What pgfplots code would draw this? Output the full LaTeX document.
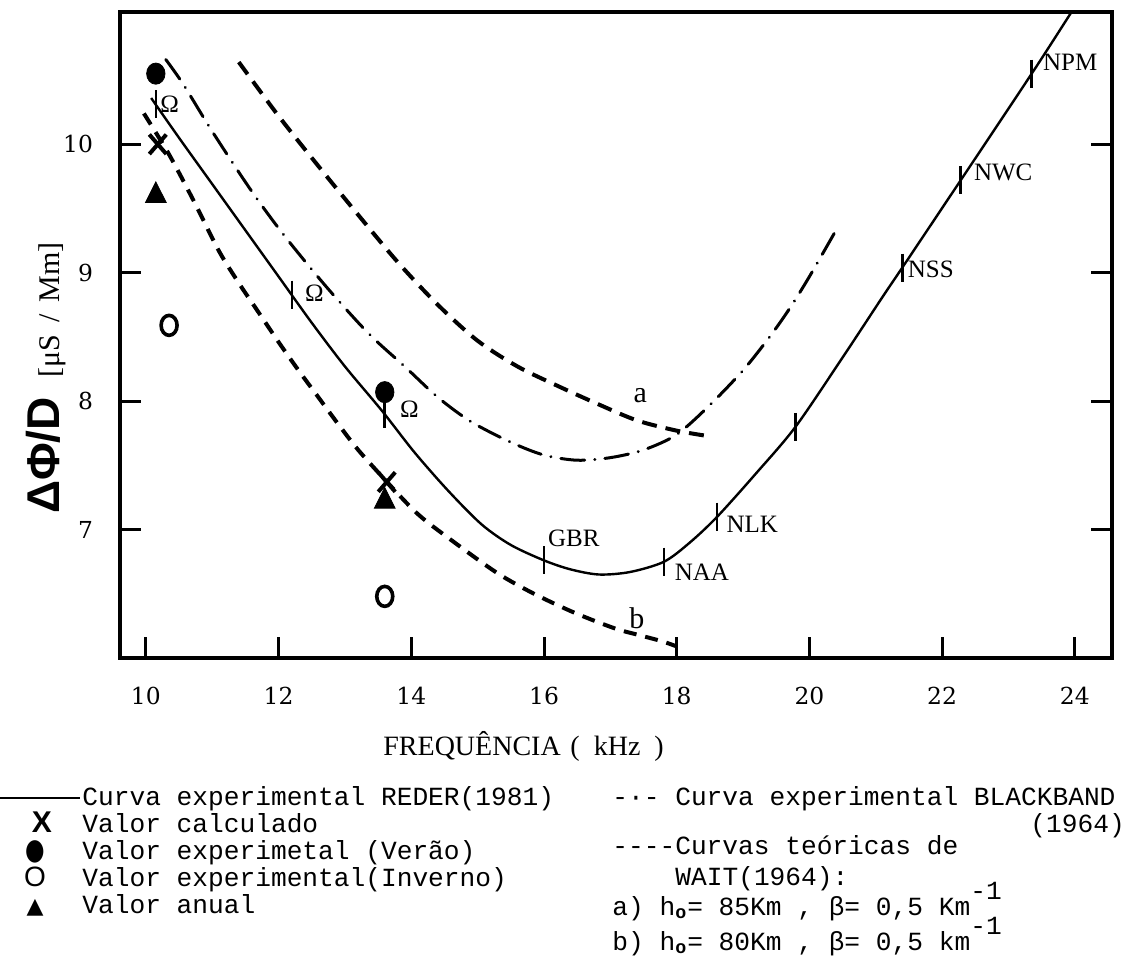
\documentclass[border=0pt]{standalone}
\usepackage{fontspec}
\setmainfont{Liberation Serif}
\setsansfont{Liberation Sans}
\setmonofont{Liberation Mono}
\newfontfamily\tickfont{DejaVu Serif}
\newfontfamily\symfont{DejaVu Sans}
\usepackage{pgfplots}
\pgfplotsset{compat=1.18}

\newcommand\lgd{\fontsize{13.1}{15}\selectfont\ttfamily}

\begin{document}
\begin{tikzpicture}
\useasboundingbox (-60pt,-159pt) rectangle (511pt,329pt);
\begin{axis}[
    at={(0pt,0pt)}, anchor=south west,
    scale only axis, width=496pt, height=323pt,
    xmin=9.61, xmax=24.56, ymin=6, ymax=11.03,
    xtick={10,12,...,24}, ytick={7,8,9,10},
    xtick pos=left, ytick pos=both, yticklabel pos=left,
    tick align=inside,
    major tick length=10.5pt,
    every tick/.style={black, line width=1.5pt},
    axis line style={line width=1.6pt},
    /pgf/number format/assume math mode=true,
    ticklabel style={font=\tickfont\fontsize{11.7}{12}\selectfont},
    xticklabel style={yshift=-11pt},
    yticklabel style={xshift=-10pt},
]
% REDER (1981), solid
\addplot[black, line width=1.2pt, smooth] table {
x y
10.08 10.36
10.5 10.05
11.0 9.69
11.5 9.33
12.0 8.97
12.5 8.61
13.0 8.27
13.55 7.93
14.05 7.60
14.56 7.30
15.06 7.04
15.5 6.88
16.0 6.76
16.4 6.69
16.83 6.65
17.3 6.67
17.81 6.75
18.2 6.90
18.61 7.10
19.2 7.44
19.79 7.80
20.5 8.34
21.1 8.81
21.4 9.04
22.28 9.72
23.35 10.55
23.95 11.03
24.0 11.07
};
% station ticks on the solid curve
\addplot[only marks, mark=|, mark size=7pt, mark options={line width=1.3pt}] table {
x y
10.15 10.31
12.2 8.83
13.6 7.90
16.0 6.76
17.81 6.75
18.61 7.10
19.79 7.80
21.4 9.04
22.28 9.72
23.35 10.55
};
% BLACKBAND (1964), dash-dot
\addplot[black, line width=1.5pt, smooth, line cap=round,
    dash pattern=on 12pt off 5pt on 0.1pt off 5pt] table {
x y
10.3 10.66
10.56 10.47
11.0 10.10
11.6 9.63
12.1 9.28
12.72 8.89
13.35 8.53
13.9 8.27
14.4 8.03
14.9 7.84
15.5 7.68
16.0 7.58
16.5 7.54
17.0 7.56
17.5 7.62
18.0 7.74
18.5 7.97
19.0 8.24
19.4 8.50
19.7 8.72
20.0 8.97
20.4 9.33
};
% WAIT a), dashed
\addplot[black, line width=2pt, smooth, dash pattern=on 7.5pt off 4.5pt] table {
x y
11.4 10.64
12.0 10.22
12.6 9.83
13.2 9.45
13.8 9.08
14.4 8.75
15.0 8.47
15.6 8.27
16.2 8.12
16.8 7.98
17.4 7.85
18.0 7.77
18.45 7.73
};
% WAIT b), dashed
\addplot[black, line width=2pt, smooth, dash pattern=on 6.5pt off 4.5pt] table {
x y
9.97 10.24
10.35 9.92
10.73 9.55
11.1 9.17
11.4 8.92
11.7 8.69
12.0 8.46
12.3 8.24
12.6 8.03
12.9 7.82
13.2 7.62
13.6 7.39
14.1 7.12
14.65 6.90
15.3 6.66
15.85 6.50
16.47 6.35
17.07 6.23
17.42 6.18
17.78 6.13
18.0 6.09
};
% Valor experimental (Verao)
\addplot[only marks, mark=*, mark size=4.6pt, mark options={black, yscale=1.15}] table {
x y
10.15 10.55
13.6 8.07
};
% Valor anual
\addplot[only marks, mark=triangle*, mark size=6pt, mark options={black, yscale=1.15}] table {
x y
10.15 9.60
13.6 7.22
};
% Valor calculado
\addplot[only marks, mark=x, mark size=6pt, mark options={black, line width=2pt, yscale=1.15}] table {
x y
10.18 10.0
13.63 7.37
};
% Valor experimental (Inverno)
\addplot[only marks, mark=o, mark size=4pt, mark options={black, line width=1.8pt, yscale=1.25}] table {
x y
10.35 8.59
13.6 6.48
};
\begin{scope}[every node/.style={inner sep=0pt, font=\fontsize{12.5}{13}\selectfont}]
\node at (axis cs:16.45,6.93) {GBR};
\node at (axis cs:18.38,6.67) {NAA};
\node at (axis cs:19.14,7.04) {NLK};
\node at (axis cs:21.83,9.03) {NSS};
\node at (axis cs:22.92,9.78) {NWC};
\node at (axis cs:23.93,10.64) {NPM};
\node at (axis cs:10.36,10.31) {Ω};
\node at (axis cs:12.54,8.84) {Ω};
\node at (axis cs:13.97,7.94) {Ω};
\node[font=\fontsize{15}{15}\selectfont] at (axis cs:17.45,8.04) {a};
\node[font=\fontsize{15}{15}\selectfont] at (axis cs:17.4,6.31) {b};
\end{scope}
\end{axis}
% axis titles
\node[anchor=base west, inner sep=0pt, font=\fontsize{14}{14}\selectfont] at (131.5pt,-48.5pt)
    {FREQUÊNCIA\hspace{0.35em}(\hspace{0.5em}kHz\hspace{0.5em})};
\node[rotate=90, inner sep=0pt] at (-37pt,140pt)
    {{\fontsize{23}{23}\selectfont\sffamily\bfseries ΔΦ/D}\hspace{10pt}{\fontsize{15}{15}\selectfont [μS\hspace{0.4em}/\hspace{0.4em}Mm]}};
% legend, left column
\draw[line width=1pt] (-60pt,-70pt) -- (-20pt,-70pt);
\begin{scope}[every node/.style={inner sep=0pt, anchor=base west, font=\lgd}]
\node at (-19pt,-73.5pt) {Curva experimental REDER(1981)};
\node at (-19pt,-87pt) {Valor calculado};
\node at (-19pt,-100.5pt) {Valor experimetal (Verão)};
\node at (-19pt,-114pt) {Valor experimental(Inverno)};
\node at (-19pt,-127.5pt) {Valor anual};
\node at (246pt,-73.5pt) {-·- Curva experimental BLACKBAND};
\node at (455pt,-87pt) {(1964)};
\node at (246pt,-98pt) {----Curvas teóricas de};
\node at (277.5pt,-113.5pt) {WAIT(1964):};
\node at (246pt,-128.5pt) {a) h\textsubscript{\textbf{o}}= 85Km , β= 0,5 Km\raisebox{1.1ex}{-1}};
\node at (246pt,-146pt) {b) h\textsubscript{\textbf{o}}= 80Km , β= 0,5 km\raisebox{1.1ex}{-1}};
\end{scope}
\begin{scope}[every node/.style={inner sep=0pt, anchor=base}]
\node[font=\fontsize{15}{15}\selectfont\sffamily\bfseries] at (-39pt,-87pt) {X};
\node[font=\fontsize{14}{14}\selectfont\symfont] at (-42.5pt,-100.5pt) {\scalebox{0.8}[1.05]{●}};
\node[font=\fontsize{14}{14}\selectfont\sffamily] at (-42.5pt,-114pt) {O};
\node[font=\fontsize{11}{11}\selectfont\symfont] at (-42.5pt,-127.5pt) {▲};
\end{scope}
\end{tikzpicture}
\end{document}
